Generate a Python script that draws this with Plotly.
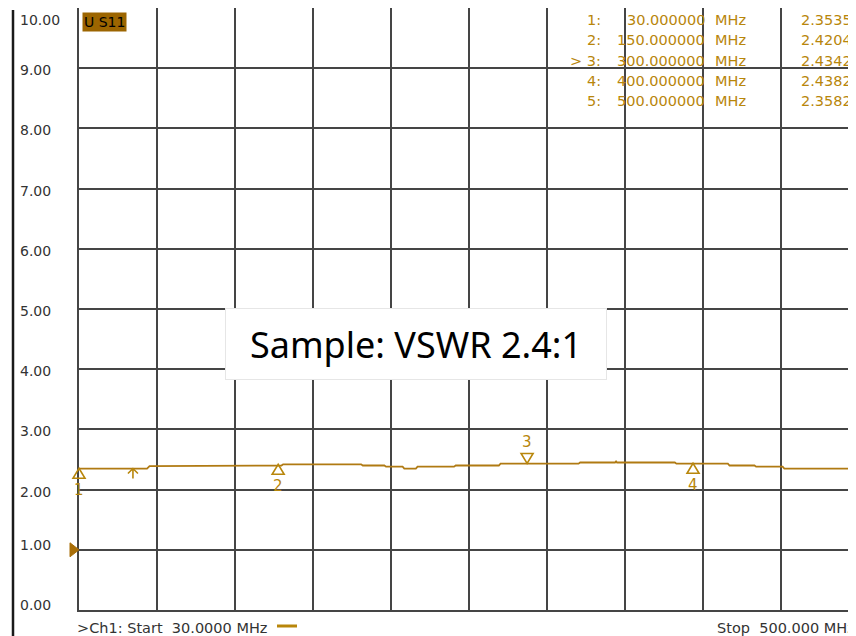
import plotly.graph_objects as go

# ---------------- data ----------------
trace_freq = [30, 71, 72.5, 129, 130, 152, 153, 200, 201, 214, 215, 225, 226, 233, 234,
              256, 257, 283, 284, 331, 332, 353, 353.6, 354.2, 389, 390, 421, 422, 437,
              438, 454, 455, 500]
trace_vswr = [2.35, 2.35, 2.39, 2.39, 2.40, 2.40, 2.42, 2.42, 2.40, 2.40, 2.38, 2.38, 2.35,
              2.35, 2.38, 2.38, 2.40, 2.40, 2.43, 2.43, 2.45, 2.45, 2.47, 2.45, 2.45, 2.43,
              2.43, 2.40, 2.40, 2.38, 2.38, 2.35, 2.35]

marker_ids = [1, 2, 3, 4, 5]
marker_freqs = [30, 150, 300, 400, 500]
marker_vals = [2.3535, 2.4204, 2.4342, 2.4382, 2.3582]
active_marker = 3
ref_arrow_freq = 62.5
ref_level = 1.0

y_ticks = [0, 1, 2, 3, 4, 5, 6, 7, 8, 9, 10]
y_ticklabels = ["0.00", "1.00", "2.00", "3.00", "4.00", "5.00", "6.00", "7.00", "8.00", "9.00", "10.00"]

f_start, f_stop = 30, 500
n_div = 10
title_text = "Sample: VSWR 2.4:1"
trace_label = "U S11"
start_text = ">Ch1: Start\u00a0\u00a030.0000 MHz"
stop_text = "Stop\u00a0\u00a0500.000 MHz"

# ---------------- style ----------------
# the page body has an 8px margin, so the figure is 8px smaller than the window
PAGE_OFF = 8
W, H = 856 - PAGE_OFF, 636 - PAGE_OFF
PLOT_L, PLOT_T, PLOT_B = 79, 8, 610     # page pixel positions of the grid
ML = PLOT_L - PAGE_OFF
MT = PLOT_T - PAGE_OFF
MB = (H + PAGE_OFF) - PLOT_B
plot_w = W - ML            # 777 px (full grid would be 780 px)
plot_h = H - MT - MB
GOLD = "#B8860B"
TRACE = "#B07A12"
GRID = "#454545"
TXT = "#333333"
FONT = "DejaVu Sans"

step = (f_stop - f_start) / n_div
x_end = f_start + (f_stop - f_start) * plot_w / 780.0
grid_x = [f_start + step * k for k in range(1, n_div)]

fig = go.Figure()
fig.add_trace(go.Scatter(x=trace_freq, y=trace_vswr, mode="lines",
                         line=dict(color=TRACE, width=1.8), hoverinfo="skip",
                         showlegend=False))

shapes = []
annotations = []

def px_x(p):
    return (p - PLOT_L) / plot_w

def px_y(p):
    return (PLOT_B - p) / plot_h

def f_to_paper(f):
    # position along the x axis as a fraction of the plotting area (unclipped shapes)
    return (f - f_start) / (x_end - f_start)

# markers
for mid, f, v in zip(marker_ids, marker_freqs, marker_vals):
    if mid == active_marker:
        path = "M0,0 L-6,10 L6,10 Z"
        ys = 21
    else:
        path = "M0,0 L-6,-10 L6,-10 Z"
        ys = -22
    shapes.append(dict(type="path", xref="paper", yref="y", xsizemode="pixel", ysizemode="pixel",
                       xanchor=f_to_paper(f), yanchor=v, path=path,
                       line=dict(color=GOLD, width=1.6), fillcolor="rgba(0,0,0,0)"))
    if f <= x_end:
        annotations.append(dict(x=f, y=v, xref="x", yref="y", text=str(mid), showarrow=False,
                                yshift=ys, font=dict(family=FONT, size=15, color=GOLD)))

# reference arrow marker
shapes.append(dict(type="path", xref="x", yref="y", xsizemode="pixel", ysizemode="pixel",
                   xanchor=ref_arrow_freq, yanchor=trace_vswr[0],
                   path="M0,0 L0,-10 M-5,-5 L0,0 L5,-5",
                   line=dict(color=GOLD, width=1.6)))

# reference level triangle (left of the grid)
shapes.append(dict(type="path", xref="paper", yref="y", xsizemode="pixel", ysizemode="pixel",
                   xanchor=f_to_paper(f_start), yanchor=ref_level, path="M0,0 L-9,7 L-9,-7 Z",
                   line=dict(color="#A86E08", width=1), fillcolor="#A86E08"))

# left thick line
shapes.append(dict(type="line", xref="paper", yref="paper",
                   x0=px_x(13), x1=px_x(13), y0=px_y(10), y1=px_y(640),
                   line=dict(color="#1a1a1a", width=2.5)))

# little trace-colour dash after start text
shapes.append(dict(type="line", xref="paper", yref="paper",
                   x0=px_x(277), x1=px_x(297), y0=px_y(626), y1=px_y(626),
                   line=dict(color=GOLD, width=3)))

# y tick labels (left aligned)
for v, lab in zip(y_ticks, y_ticklabels):
    if v == y_ticks[-1]:
        annotations.append(dict(x=px_x(18), y=px_y(10), xref="paper", yref="paper", text=lab,
                                showarrow=False, xanchor="left", yanchor="top",
                                font=dict(family=FONT, size=14, color=TXT)))
    else:
        annotations.append(dict(x=px_x(18), y=v, xref="paper", yref="y", text=lab,
                                showarrow=False, xanchor="left", yanchor="middle",
                                yshift=-2 if v > 1 else 5,
                                font=dict(family=FONT, size=14, color=TXT)))

# marker table
row_y = [20, 40, 61, 81, 101]
for i, (mid, f, v) in enumerate(zip(marker_ids, marker_freqs, marker_vals)):
    y = px_y(row_y[i])
    lab = ("> " if mid == active_marker else "") + f"{mid}:"
    tf = dict(family=FONT, size=14.5, color=GOLD)
    annotations.append(dict(x=px_x(603), y=y, xref="paper", yref="paper", text=lab,
                            showarrow=False, xanchor="right", yanchor="middle", font=tf))
    annotations.append(dict(x=px_x(707), y=y, xref="paper", yref="paper", text=f"{f:.6f}",
                            showarrow=False, xanchor="right", yanchor="middle", font=tf))
    annotations.append(dict(x=px_x(713), y=y, xref="paper", yref="paper", text="MHz",
                            showarrow=False, xanchor="left", yanchor="middle", font=tf))
    annotations.append(dict(x=px_x(854), y=y, xref="paper", yref="paper", text=f"{v:.4f}",
                            showarrow=False, xanchor="right", yanchor="middle", font=tf))

# trace label box
annotations.append(dict(x=px_x(82), y=px_y(12), xref="paper", yref="paper", text=trace_label,
                        showarrow=False, xanchor="left", yanchor="top",
                        bgcolor="#9C6500", borderpad=1,
                        font=dict(family=FONT, size=14, color="#000000")))

# bottom texts
annotations.append(dict(x=px_x(75), y=px_y(628), xref="paper", yref="paper", text=start_text,
                        showarrow=False, xanchor="left", yanchor="middle",
                        font=dict(family=FONT, size=14.5, color=TXT)))
annotations.append(dict(x=px_x(715), y=px_y(628), xref="paper", yref="paper", text=stop_text,
                        showarrow=False, xanchor="left", yanchor="middle",
                        font=dict(family=FONT, size=14.5, color=TXT)))

# sample title box
annotations.append(dict(x=px_x(416), y=px_y(344), xref="paper", yref="paper", text=title_text,
                        showarrow=False, xanchor="center", yanchor="middle",
                        width=380, height=70, bgcolor="#ffffff", bordercolor="#e6e6e6",
                        borderwidth=1, borderpad=0,
                        font=dict(family="Noto Sans", size=36, color="#000000")))

fig.update_layout(
    width=W, height=H,
    margin=dict(l=ML, r=0, t=MT, b=MB, pad=0),
    paper_bgcolor="#ffffff", plot_bgcolor="#ffffff",
    shapes=shapes, annotations=annotations,
    xaxis=dict(range=[f_start, x_end], tickvals=grid_x, showticklabels=False, ticks="",
               showgrid=True, gridcolor=GRID, gridwidth=2, zeroline=False,
               showline=True, linecolor=GRID, linewidth=2, fixedrange=True),
    yaxis=dict(range=[0, 10], tickvals=y_ticks[1:-1], showticklabels=False, ticks="",
               showgrid=True, gridcolor=GRID, gridwidth=2, zeroline=False,
               showline=True, linecolor=GRID, linewidth=2, fixedrange=True),
)

fig.write_html("out.html")
